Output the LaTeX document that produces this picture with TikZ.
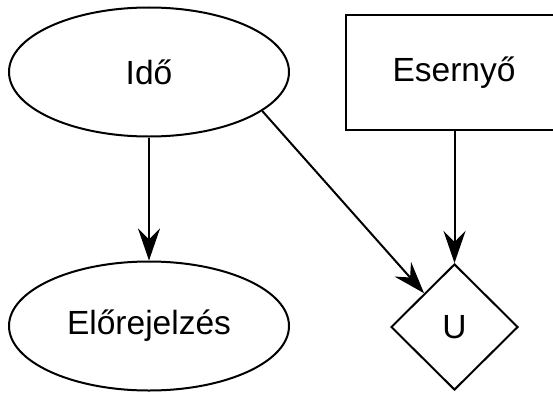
\documentclass[tikz,border=0pt]{standalone}
\usepackage{fontspec}
\setmainfont{Liberation Sans}
\usetikzlibrary{shapes.geometric,arrows.meta}
\begin{document}
\begin{tikzpicture}[x=1pt,y=-1pt,
  every node/.style={font=\fontsize{33.5}{40}\selectfont, inner sep=0pt},
  lw/.style={line width=2pt},
  chance/.style={ellipse, draw, lw, minimum width=280pt, minimum height=129pt},
  decision/.style={rectangle, draw, lw, minimum width=216pt, minimum height=115pt},
  utility/.style={diamond, draw, lw, minimum width=127pt, minimum height=126pt},
  conn/.style={lw, -{Stealth[length=32pt,width=22pt,inset=11pt]}}]
\useasboundingbox (0,0) rectangle (553,396);
\clip (0,0) rectangle (553,396);
\node[chance] (ido) at (149,72) {Idő};
\node[chance] (elo) at (149,326) {Előrejelzés};
\node[decision] (esz) at (454,72.5) {Esernyő};
\node[utility] (u) at (454.5,327) {U};
\draw[conn] (ido) -- (elo);
\draw[conn] (ido.-19) -- (u.132);
\draw[conn] (u.north |- esz.south) -- (u.north);
\end{tikzpicture}
\end{document}
